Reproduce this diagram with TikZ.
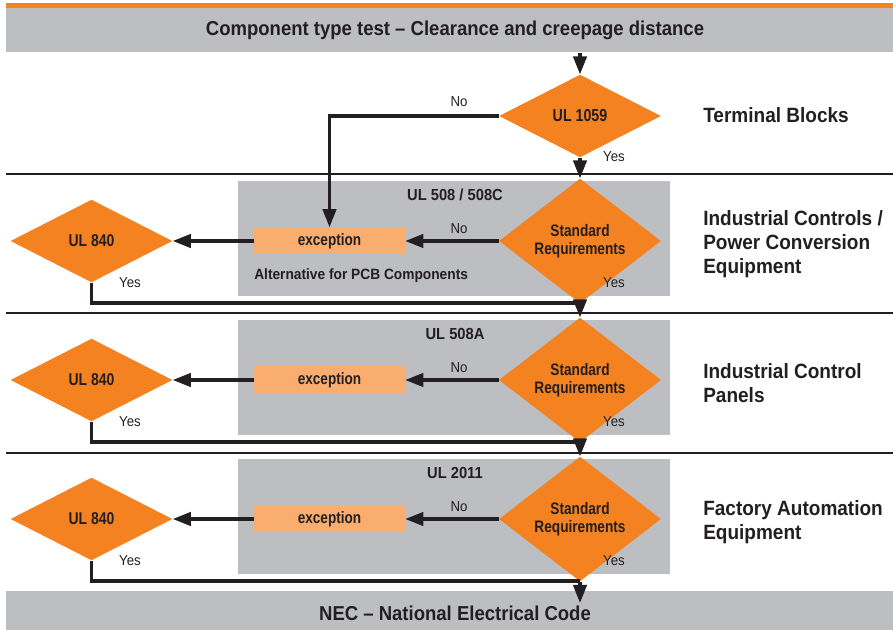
\documentclass[tikz,border=0pt]{standalone}
\usepackage{fontspec}
\setmainfont{Liberation Sans}[FakeStretch=0.92]
\newfontfamily\stretto{Liberation Sans}[FakeStretch=0.82]
\usetikzlibrary{shapes.geometric,arrows.meta,positioning}
\definecolor{ulorange}{HTML}{F58220}
\definecolor{ullight}{HTML}{F9AD6E}
\definecolor{ulgray}{HTML}{BDBEC1}
\definecolor{ulink}{HTML}{231F20}

\begin{document}
\begin{tikzpicture}[x=0.75pt,y=-0.75pt,
    rombo/.style={diamond, fill=ulorange, inner sep=0pt, minimum width=121.5pt, minimum height=62pt,
        font=\stretto\bfseries\fontsize{12.5}{13.5}\selectfont, align=center, text=ulink},
    ecc/.style={fill=ullight, minimum width=113.25pt, minimum height=20.25pt, inner sep=0pt,
        font=\stretto\bfseries\fontsize{12.4}{13.5}\selectfont, text=ulink},
    barra/.style={fill=ulgray, inner sep=0pt, minimum width=665.25pt, anchor=north west},
    freccia/.style={draw=ulink, line width=2.4pt, -{Triangle[length=13.5pt,width=10pt]}},
    linea/.style={draw=ulink, line width=2.4pt},
    sep/.style={draw=ulink, line width=1.2pt},
    etich/.style={font=\fontsize{10.8}{12}\selectfont, text=ulink, inner sep=0pt},
    sezione/.style={font=\bfseries\fontsize{11.2}{13}\selectfont, text=ulink, inner sep=0pt},
    titolo/.style={font=\bfseries\fontsize{15.5}{18}\selectfont, text=ulink, align=left, anchor=west, inner sep=0pt},
    barratesto/.style={font=\bfseries\fontsize{15.1}{17}\selectfont, text=ulink, inner sep=0pt}]

    \useasboundingbox (0,0) rectangle (893,630);

    % Barre in alto e in basso
    \fill[ulorange] (6,3) rectangle (893,8);
    \node[barra, minimum height=33pt] (prova) at (6,8) {};
    \node[barratesto] (provatesto) at (455,30) {Component type test -- Clearance and creepage distance};
    \node[barra, minimum height=29.25pt] (nec) at (6,591) {};
    \node[barratesto] (nectesto) at (455,613) {NEC -- National Electrical Code};

    % Linee di separazione tra le sezioni
    \foreach \s in {174,313,453} {
        \draw[sep] (6,\s) -- (893,\s);
    }

    % Morsettiere
    \node[rombo, font=\stretto\bfseries\fontsize{13}{14}\selectfont] (ul1059) at (580,116) {UL 1059};
    \node[titolo] (morsetti) at (703,115) {Terminal Blocks};
    \node[etich] (no0) at (459,102) {No};
    \node[etich] (si0) at (614,157) {Yes};

    % Le tre sezioni con requisiti standard ed eccezione
    \foreach \i/\y/\nome in {1/241/{UL 508 / 508C}, 2/380/{UL 508A}, 3/519/{UL 2011}} {
        \fill[ulgray] (238,\y-60) rectangle (670,\y+55);
        \node[sezione, font=\bfseries\fontsize{12}{14}\selectfont] (norma\i) at (455,\y-46.5) {\nome};
        \node[rombo] (std\i) at (580,\y) {Standard\\Requirements};
        \node[ecc] (exc\i) at (329.5,\y) {exception};
        \node[rombo, font=\stretto\bfseries\fontsize{12.8}{14}\selectfont] (ul840\i) at (91.5,\y) {UL 840};
        \node[etich] (no\i) at (459,\y-12) {No};
        \node[etich] (si\i) at (614,\y+42) {Yes};
        \node[etich] (sib\i) at (130,\y+42) {Yes};
        \coordinate (giu\i) at (580,\y+62);
        \draw[freccia] (std\i) -- (exc\i);
        \draw[freccia] (exc\i) -- (ul840\i);
        \draw[linea] (ul840\i.south) |- (giu\i);
    }
    \node[sezione, anchor=west] (pcb) at (254,276) {Alternative for PCB Components};

    % Etichette a destra
    \node[titolo] (controlli) at (703,244) {Industrial Controls /\\Power Conversion\\Equipment};
    \node[titolo] (pannelli) at (703,383) {Industrial Control\\Panels};
    \node[titolo] (fabbrica) at (703,522) {Factory Automation\\Equipment};

    % Flusso verticale
    \coordinate (fine) at (580,603);
    \draw[freccia] (prova.south -| ul1059) -- (ul1059);
    \draw[freccia] (ul1059) -- (std1);
    \draw[freccia] (std1) -- (std2);
    \draw[freccia] (std2) -- (std3);
    \draw[freccia] (std3) -- (fine);
    \draw[freccia] (ul1059.west) -| (exc1.north);

\end{tikzpicture}
\end{document}
